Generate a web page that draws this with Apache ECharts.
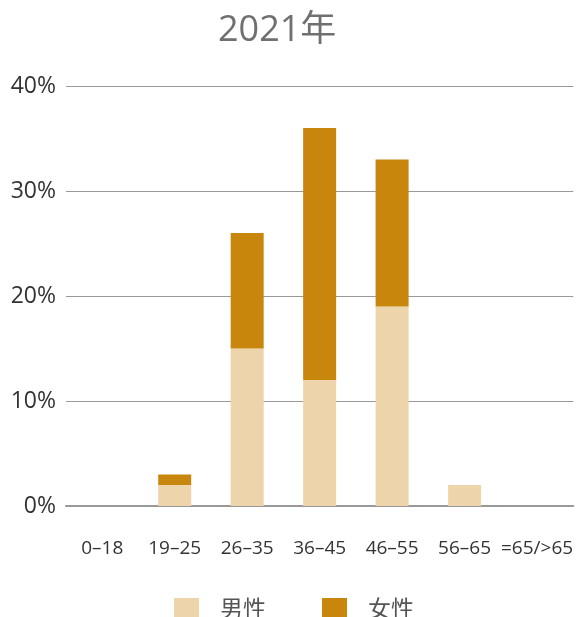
<!DOCTYPE html>
<html>
<head>
<meta charset="utf-8">
<script src="https://cdn.jsdelivr.net/npm/echarts@6/dist/echarts.min.js"></script>
<style>
    html, body { margin: 0; padding: 0; background: #fff; }
    #chart { width: 576px; height: 617px; }
</style>
</head>
<body>
<div id="chart"></div>
<script>
// 年龄段
let categories = ['0–18', '19–25', '26–35', '36–45', '46–55', '56–65', '=65/>65'];
// 男性、女性占比（%）
let maleValues = [0, 2, 15, 12, 19, 2, 0];
let femaleValues = [0, 1, 11, 24, 14, 0, 0];
let yTicks = [0, 10, 20, 30, 40];

let color = ['#EED4AB', '#C8860D'];
let fontFamily = '"Open Sans", "Noto Sans CJK SC", sans-serif';

let option = {
    animation: false,
    textStyle: {
        fontFamily: fontFamily
    },
    title: {
        text: '2021年',
        left: 213,
        top: 8,
        textStyle: {
            fontSize: 36,
            fontWeight: 'normal',
            color: '#707070',
            fontFamily: fontFamily
        }
    },
    legend: {
        top: 593,
        left: 169,
        itemWidth: 25,
        itemHeight: 24,
        itemGap: 56,
        icon: 'rect',
        data: ['男性', '女性'],
        textStyle: {
            fontSize: 23,
            color: '#555',
            padding: [0, 0, 0, 16]
        }
    },
    grid: {
        left: 66,
        right: 1,
        top: 86,
        bottom: 111,
        containLabel: false
    },
    xAxis: {
        type: 'category',
        data: categories,
        axisTick: {
            show: false
        },
        axisLine: {
            lineStyle: {
                color: '#999',
                width: 2
            }
        },
        axisLabel: {
            color: '#333',
            fontSize: 19,
            margin: 33,
            interval: 0
        }
    },
    yAxis: {
        type: 'value',
        min: yTicks[0],
        max: yTicks[yTicks.length - 1],
        interval: 10,
        axisLine: {
            show: false
        },
        axisTick: {
            show: false
        },
        axisLabel: {
            color: '#333',
            fontSize: 23,
            margin: 10,
            formatter: '{value}%'
        },
        splitLine: {
            lineStyle: {
                color: '#999',
                width: 1
            }
        }
    },
    series: [
        {
            name: '男性',
            type: 'bar',
            stack: 'total',
            barWidth: 33,
            data: maleValues,
            itemStyle: {
                color: color[0]
            }
        },
        {
            name: '女性',
            type: 'bar',
            stack: 'total',
            barWidth: 33,
            data: femaleValues,
            itemStyle: {
                color: color[1]
            }
        }
    ]
};

let chart = echarts.init(document.getElementById('chart'));
chart.setOption(option);
</script>
</body>
</html>
